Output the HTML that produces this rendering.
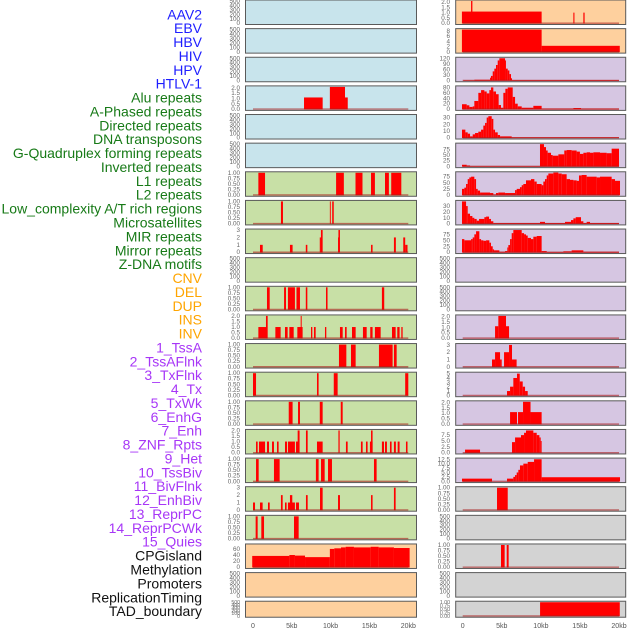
<!DOCTYPE html>
<html><head><meta charset="utf-8"><style>
html,body{margin:0;padding:0;background:#fff;width:630px;height:630px;overflow:hidden}
svg{display:block}
text{font-family:"Liberation Sans",sans-serif}
</style></head><body>
<svg id="chart" width="630" height="630" viewBox="0 0 630 630"></svg>
<script>
// ---- categories ----
const trackLabels = ["AAV2","EBV","HBV","HIV","HPV","HTLV-1","Alu repeats","A-Phased repeats","Directed repeats","DNA transposons","G-Quadruplex forming repeats","Inverted repeats","L1 repeats","L2 repeats","Low_complexity A/T rich regions","Microsatellites","MIR repeats","Mirror repeats","Z-DNA motifs","CNV","DEL","DUP","INS","INV","1_TssA","2_TssAFlnk","3_TxFlnk","4_Tx","5_TxWk","6_EnhG","7_Enh","8_ZNF_Rpts","9_Het","10_TssBiv","11_BivFlnk","12_EnhBiv","13_ReprPC","14_ReprPCWk","15_Quies","CPGisland","Methylation","Promoters","ReplicationTiming","TAD_boundary"];
const xTickLabels = ["0","5kb","10kb","15kb","20kb"];
const xTickValues = [0,5,10,15,20];

// ---- tick label sets ----
const tEmpty = ["0","100","200","300","400","500"], vEmpty=[0,100,200,300,400,500];
const tUnit = ["0.00","0.25","0.50","0.75","1.00"], vUnit=[0,0.25,0.5,0.75,1];
const tTwo = ["0.0","0.5","1.0","1.5","2.0"], vTwo=[0,0.5,1,1.5,2];
const tThree = ["0","1","2","3"], vThree=[0,1,2,3];

// ---- left column series [startKb, endKb, value] ----
const leftAlu = [[6.57,8.97,1.1],[9.9,11.85,2.1],[11.85,12.2,1.1]];
const leftL1 = [[0.69,1.55,1],[10.7,11.7,1],[13.2,14.1,1],[15.2,15.7,1],[17.0,17.5,1],[17.8,19.1,1]];
const leftLowC = [[3.6,3.86,1],[9.9,10.0,1],[10.2,10.4,1]];
const leftMIR = [[0.9,1.25,1],[4.76,5.1,1],[6.8,7.0,1],[8.6,8.75,2],[8.75,8.97,3],[10.95,11.0,2],[11.0,11.2,3],[15.2,15.4,1],[18.15,18.4,2],[19.35,19.6,2],[19.6,19.9,1]];
const leftDEL = [[1.8,2.15,1],[4.0,4.25,1],[4.5,5.4,1],[5.6,6.05,1],[6.8,7.0,1],[9.4,9.6,1],[16.6,16.9,1]];
const leftINS = [[0.69,1.76,1],[1.67,1.89,2],[2.88,3.56,1],[4.12,4.46,1],[4.68,5.24,1],[5.71,6.39,1],[6.14,6.27,2],[7.47,7.64,1],[7.85,8.07,1],[9.27,9.44,1],[11.2,11.55,1],[11.85,12.06,1],[12.75,13.22,1],[14.16,14.64,1],[15.1,15.4,1],[15.7,16.44,1],[17.9,18.37,1],[18.58,18.88,1],[19.1,19.27,1]];
const leftTssA = [[11.07,12.02,1],[12.62,13.22,1],[16.22,17.98,1],[18.15,18.5,1]];
const leftTssAFlnk = [[0,0.39,1],[8.24,8.45,1],[10.4,10.9,1],[19.6,20.0,1]];
const leftTxFlnk = [[4.6,5.1,1],[5.8,6.05,1],[8.6,8.97,1],[11.3,11.55,1]];
const leftTx = [[0.39,0.6,1],[0.77,1.55,1],[1.8,2.06,1],[2.45,2.7,1],[3.09,3.3,1],[4.12,4.38,1],[4.5,5.4,1],[5.54,5.97,1],[5.75,6.0,2],[6.82,7.04,2],[8.24,8.97,1],[11.0,11.16,2],[11.97,12.19,1],[13.9,14.12,1],[14.55,14.76,1],[15.06,15.4,1],[15.2,15.4,2],[16.6,16.87,1],[17.0,17.25,1],[17.64,17.85,1],[18.15,18.4,1],[18.63,18.88,1],[19.7,19.9,1]];
const leftTxWk = [[0.39,0.73,1],[2.7,3.43,1],[8.1,8.45,1],[8.76,9.23,1],[9.66,10.17,1],[15.58,15.92,1]];
const leftEnhG = [[0,0.26,1],[0.9,1.24,1],[1.93,2.15,1],[3.6,3.82,2],[4.12,4.33,1],[4.5,5.4,1],[4.76,5.06,2],[5.54,5.92,1],[6.82,7.04,2],[8.63,8.97,3],[10.95,11.2,2],[15.2,15.4,2],[18.15,18.37,3]];
const leftEnh = [[0.34,0.6,1],[1.07,1.42,1],[5.28,5.88,1]];
const leftCPG = [[-0.1,4.68,37],[4.68,5.4,40],[5.4,6.7,38],[6.7,9.9,33],[9.9,10.47,60],[10.47,11.33,62],[11.33,11.93,65],[11.93,13.0,67],[13.0,15.15,65],[15.15,16.18,67],[16.18,18.15,65],[18.15,20.17,63]];

// ---- right column series ----
const rightR0 = [[-0.1,10.1,1.1],[1.07,1.24,2.1],[14.16,14.3,1],[15.44,15.6,1]];
const rightR1 = [[-0.1,10.1,8.5],[10.1,20.1,2.3]];
const rightHIV = [[0.09,1.49,1],[1.49,3.5,4],[3.5,3.62,15],[3.62,3.84,25],[3.84,4.05,50],[4.05,4.26,65],[4.26,4.48,85],[4.48,4.69,110],[4.69,5.42,122],[5.42,5.54,110],[5.54,5.76,65],[5.76,5.97,55],[5.97,6.18,35],[6.18,6.31,12],[6.31,20,2]];
const rightAlu = [[-0.09,0.51,18],[0.51,0.85,14],[0.85,1.28,8],[1.28,1.49,10],[1.49,2.0,30],[2.0,2.35,60],[2.35,2.77,70],[2.77,3.07,65],[3.07,3.41,58],[3.41,3.62,70],[3.62,3.92,80],[3.92,4.26,65],[4.26,4.6,55],[4.6,4.9,15],[4.9,5.2,5],[5.2,5.46,60],[5.46,5.76,75],[5.76,6.4,80],[6.4,6.7,45],[6.7,7.04,20],[7.04,7.55,10],[7.55,9.04,5],[9.04,10.1,12],[10.1,14.16,2],[14.16,15.14,4],[15.14,20,2]];
const rightDirected = [[-0.09,0.34,12],[0.34,0.64,8],[0.64,0.94,6],[0.94,1.28,2],[1.28,1.58,5],[1.58,2.0,7],[2.0,2.35,9],[2.35,2.64,12],[2.64,2.86,18],[2.86,3.07,22],[3.07,3.28,30],[3.28,3.71,32],[3.71,3.92,28],[3.92,4.14,12],[4.14,4.48,8],[4.48,4.78,4],[4.78,6.27,2],[6.27,20,0.5]];
const rightGQuad = [[-0.09,0.51,7],[0.51,0.94,4],[0.94,9.89,0.5],[9.89,10.4,98],[10.4,10.66,85],[10.66,10.87,70],[10.87,11.3,60],[11.3,11.51,50],[11.51,12.24,47],[12.24,13.0,53],[13.0,13.3,70],[13.3,13.94,72],[13.94,14.58,70],[14.58,15.0,65],[15.0,15.44,55],[15.44,15.86,60],[15.86,16.29,62],[16.29,16.72,60],[16.72,17.57,62],[17.57,18.42,60],[18.42,19.06,58],[19.06,20,78]];
const rightL1 = [[-0.09,0.21,25],[0.21,0.43,30],[0.43,0.64,45],[0.64,0.85,65],[0.85,1.07,72],[1.07,1.49,75],[1.49,1.71,65],[1.71,1.92,25],[1.92,2.22,18],[2.22,3.5,10],[3.5,3.92,8],[3.92,4.26,2],[4.26,4.56,8],[4.56,5.42,10],[5.42,6.7,8],[6.7,6.91,20],[6.91,7.33,25],[7.33,7.55,32],[7.55,7.76,40],[7.76,8.1,45],[8.1,8.74,60],[8.74,9.17,65],[9.17,9.47,55],[9.47,10.1,45],[10.1,10.32,40],[10.32,10.53,55],[10.53,10.75,65],[10.75,10.96,80],[10.96,11.6,88],[11.6,12.24,92],[12.24,12.67,88],[12.67,13.3,85],[13.3,13.73,65],[13.73,14.16,62],[14.16,14.58,60],[14.58,14.88,58],[14.88,15.22,80],[15.22,15.86,82],[15.86,17.14,75],[17.14,17.57,72],[17.57,19.06,75],[19.06,19.49,65],[19.49,20.13,58]];
const rightLowC = [[-0.09,0.43,38],[0.43,0.64,30],[0.64,0.94,17],[0.94,1.24,13],[1.24,1.49,10],[1.49,1.79,8],[1.79,2.09,5],[2.09,2.77,8],[2.77,2.99,11],[2.99,3.37,12],[3.37,3.62,8],[3.62,3.92,4],[3.92,9.89,1],[9.89,10.53,3],[10.53,13.09,1],[13.09,13.86,3],[13.86,14.16,6],[14.16,14.46,9],[14.46,15.14,11],[15.14,15.44,4],[15.44,15.86,1],[15.86,16.29,3],[16.29,20,1]];
const rightMIR = [[-0.09,0.21,55],[0.21,1.07,50],[1.07,1.28,55],[1.28,1.49,62],[1.49,1.71,75],[1.71,2.13,88],[2.13,2.35,55],[2.35,2.64,50],[2.64,2.99,48],[2.99,3.41,50],[3.41,3.62,40],[3.62,3.84,25],[3.84,4.01,12],[4.01,4.69,8],[4.69,5.42,2],[5.42,5.71,5],[5.71,5.84,20],[5.84,6.06,30],[6.06,6.27,55],[6.27,6.48,80],[6.48,7.55,93],[7.55,7.85,80],[7.85,8.1,75],[8.1,8.32,70],[8.32,8.74,60],[8.74,9.04,55],[9.04,9.47,65],[9.47,10.1,68],[10.1,10.75,5],[10.75,12.88,1],[12.88,13.94,4],[13.94,15.44,8],[15.44,20,2]];
const rightINS = [[4.14,4.56,1.1],[4.56,5.54,2.05],[5.54,5.93,1.1]];
const rightTssA = [[3.75,4.14,1],[4.14,4.78,2],[4.78,4.99,1],[5.29,5.93,2],[5.93,6.31,3],[6.31,6.9,1]];
const rightTssAFlnk = [[5.67,6.06,1],[6.06,6.48,2],[6.48,6.95,4],[6.95,7.3,5],[7.3,7.68,3.2],[7.68,7.98,2],[7.98,8.32,1]];
const rightTxFlnk = [[6.06,6.95,1.1],[7.08,7.72,1.1],[7.72,8.68,2.05],[8.68,10.1,1.1]];
const rightTx = [[0.3,2.22,1.3],[6.31,6.7,4.5],[6.7,7.46,6.5],[7.46,7.85,7.5],[7.85,8.1,8.5],[8.1,9.04,9.5],[9.04,9.47,8.5],[9.47,9.81,7.5],[9.81,9.98,6.5],[9.98,10.1,5]];
const rightTxWk = [[-0.09,3.75,1.5],[5.67,6.48,1.5],[6.48,6.7,2.5],[6.7,6.91,3.5],[6.91,7.12,5],[7.12,7.33,6.5],[7.33,7.76,9],[7.76,8.32,10],[8.32,9.13,11],[9.13,10.1,12.5],[10.1,20.13,2.3]];
const rightEnhG = [[4.39,5.76,1]];
const rightZNF = [[4.9,5.37,1],[5.63,5.88,1]];
const rightTAD = [[9.9,20.1,1]];

// ---- panel tables (one per column) ----
const leftBg = ["#c8e4ec","#c8e4ec","#c8e4ec","#c8e4ec","#c8e4ec","#c8e4ec","#c8e0a6","#c8e0a6","#c8e0a6","#c8e0a6","#c8e0a6","#c8e0a6","#c8e0a6","#c8e0a6","#c8e0a6","#c8e0a6","#c8e0a6","#c8e0a6","#c8e0a6","#fed09e","#fed09e","#fed09e"];
const rightBg = ["#fed09e","#fed09e","#d6c6e2","#d6c6e2","#d6c6e2","#d6c6e2","#d6c6e2","#d6c6e2","#d6c6e2","#d6c6e2","#d6c6e2","#d6c6e2","#d6c6e2","#d6c6e2","#d6c6e2","#d6c6e2","#d6c6e2","#d3d3d3","#d3d3d3","#d3d3d3","#d3d3d3","#d3d3d3"];
const leftSeries = [null,null,null,leftAlu,null,null,leftL1,leftLowC,leftMIR,null,leftDEL,leftINS,leftTssA,leftTssAFlnk,leftTxFlnk,leftTx,leftTxWk,leftEnhG,leftEnh,leftCPG,null,null];
const rightSeries = [rightR0,rightR1,rightHIV,rightAlu,rightDirected,rightGQuad,rightL1,rightLowC,rightMIR,null,null,rightINS,rightTssA,rightTssAFlnk,rightTxFlnk,rightTx,rightTxWk,rightEnhG,null,rightZNF,null,rightTAD];
const leftYMax = [500,500,500,2.1,500,500,1,1,3,500,1,2,1,1,1,2,1,3,1,73,500,500];
const rightYMax = [2.1,8.5,122,82,33,98,91,38,93,500,500,2.05,3.05,5.1,2.05,9.5,12.6,1,500,1,500,1];
const leftTicks = [tEmpty,tEmpty,tEmpty,tTwo,tEmpty,tEmpty,tUnit,tUnit,tThree,tEmpty,tUnit,tTwo,tUnit,tUnit,tUnit,tTwo,tUnit,tThree,tUnit,["0","20","40","60"],tEmpty,tEmpty];
const leftTickVals = [vEmpty,vEmpty,vEmpty,vTwo,vEmpty,vEmpty,vUnit,vUnit,vThree,vEmpty,vUnit,vTwo,vUnit,vUnit,vUnit,vTwo,vUnit,vThree,vUnit,[0,20,40,60],vEmpty,vEmpty];
const rightTicks = [tTwo,["0","2","4","6","8"],["0","30","60","90","120"],["0","20","40","60","80"],["0","10","20","30"],["0","25","50","75"],["0","25","50","75"],["0","10","20","30"],["0","25","50","75"],tEmpty,tEmpty,tTwo,tThree,["0","1","2","3","4","5"],tTwo,["0.0","2.5","5.0","7.5"],["0.0","2.5","5.0","7.5","10.0","12.5"],tUnit,tEmpty,tUnit,tEmpty,tUnit];
const rightTickVals = [vTwo,[0,2,4,6,8],[0,30,60,90,120],[0,20,40,60,80],[0,10,20,30],[0,25,50,75],[0,25,50,75],[0,10,20,30],[0,25,50,75],vEmpty,vEmpty,vTwo,vThree,[0,1,2,3,4,5],vTwo,[0,2.5,5,7.5],[0,2.5,5,7.5,10,12.5],vUnit,vEmpty,vUnit,vEmpty,vUnit];

const NS = "http://www.w3.org/2000/svg";
const svg = document.getElementById("chart");
function mk(tag, attrs, parent){ const e=document.createElementNS(NS,tag); for(const k in attrs) e.setAttribute(k,attrs[k]); (parent||svg).appendChild(e); return e; }

// labels
const labelColors = i => i<6?"#1e1eff":i<19?"#177a17":i<24?"#ffa500":i<39?"#a736f7":"#111";
trackLabels.forEach((t,i)=>{
  const e=mk("text",{x:202,y:(19.3+i*13.88).toFixed(1),"text-anchor":"end","font-size":"14",fill:labelColors(i)});
  e.textContent=t;
  
  
});

const cols = [
  {name:"left", px0:245.5, px1:416.5, x0:253, x1:408.3, tickX:240, bg:leftBg, series:leftSeries, ymax:leftYMax, ticks:leftTicks, tv:leftTickVals},
  {name:"right", px0:455.7, px1:625.7, x0:462.7, x1:619, tickX:450, bg:rightBg, series:rightSeries, ymax:rightYMax, ticks:rightTicks, tv:rightTickVals}
];
function rowTop(i){ return i*28.63; }
function rowH(i){ return i===21?16:24.5; }

cols.forEach(c=>{
  const xs = kb => c.x0 + (c.x1-c.x0)*kb/20;
  for(let i=0;i<22;i++){
    const top=rowTop(i), h=rowH(i);
    const y0=top+h-1.3, y1=top+1;
    const ys = v => y0 - (y0-y1)*v/c.ymax[i];
    const g=mk("g",{});
    
    
    mk("rect",{x:c.px0,y:top,width:c.px1-c.px0,height:h,fill:c.bg[i],stroke:"#5a5a5a","stroke-width":1},g);
    const fs = i===21?5.2:6.3;
    c.ticks[i].forEach((t,k)=>{
      const e=mk("text",{x:c.tickX,y:(ys(c.tv[i][k])+2).toFixed(1),"text-anchor":"end","font-size":fs,fill:"#666"},g);
      e.textContent=t;
      
      
    });
    const s=c.series[i];
    if(s){
      s.forEach(d=>{
        const xa=xs(Math.max(d[0],-0.1)), xb=xs(d[1]);
        const yt=ys(d[2]);
        const r=mk("rect",{x:xa.toFixed(2),y:yt.toFixed(2),width:Math.max(0.9,xb-xa).toFixed(2),height:Math.max(0.5,y0-yt+0.3).toFixed(2),fill:"#ff0000"},g);
        
        
      });
      const bl=mk("line",{x1:xs(0),x2:xs(20),y1:y0,y2:y0,stroke:"rgba(170,30,30,0.6)","stroke-width":1.4},g);
      
      
    }
  }
  xTickValues.forEach((v,k)=>{
    const e=mk("text",{x:xs(v).toFixed(1),y:628,"text-anchor":"middle","font-size":7,fill:"#555"});
    e.textContent=xTickLabels[k];
    
    
  });
});
</script>
</body></html>
